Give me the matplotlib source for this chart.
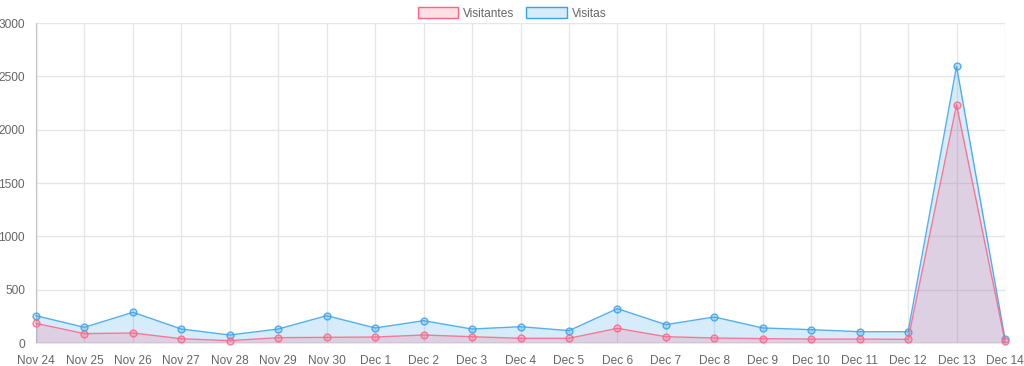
import matplotlib
matplotlib.use("Agg")
import matplotlib.pyplot as plt
from matplotlib.patches import Patch

# daily labels and values
dias = ["Nov 24", "Nov 25", "Nov 26", "Nov 27", "Nov 28", "Nov 29", "Nov 30",
        "Dec 1", "Dec 2", "Dec 3", "Dec 4", "Dec 5", "Dec 6", "Dec 7",
        "Dec 8", "Dec 9", "Dec 10", "Dec 11", "Dec 12", "Dec 13", "Dec 14"]
visitantes = [184, 88, 94, 40, 22, 50, 53, 56, 75, 59, 44, 44, 138, 59,
              47, 41, 37, 37, 34, 2234, 16]
visitas = [256, 147, 288, 131, 75, 131, 256, 141, 209, 131, 153, 116, 322, 172,
           244, 141, 125, 106, 106, 2594, 37]
y_ticks = [0, 500, 1000, 1500, 2000, 2500, 3000]

pink = (255/255, 99/255, 132/255)
blue = (54/255, 162/255, 235/255)

plt.rcParams['font.family'] = ['Liberation Sans', 'DejaVu Sans']
fig = plt.figure(figsize=(10.24, 3.66), dpi=100)
ax = fig.add_axes([36/1024, 23/366, 969/1024, 320/366])

x = list(range(len(dias)))

# Visitas underneath, Visitantes on top (chart.js draws first dataset last)
ax.fill_between(x, 0, visitas, color=blue, alpha=0.2, linewidth=0, zorder=2)
ax.plot(x, visitas, color=blue, linewidth=1, alpha=0.85, zorder=3, clip_on=False)
ax.scatter(x, visitas, s=24, facecolor=blue + (0.25,), edgecolor=blue + (0.85,),
           linewidth=1, zorder=4, clip_on=False)

ax.fill_between(x, 0, visitantes, color=pink, alpha=0.2, linewidth=0, zorder=5)
ax.plot(x, visitantes, color=pink, linewidth=1, alpha=0.85, zorder=6, clip_on=False)
ax.scatter(x, visitantes, s=24, facecolor=pink + (0.25,), edgecolor=pink + (0.85,),
           linewidth=1, zorder=7, clip_on=False)

ax.set_xlim(0, len(dias) - 1)
ax.set_ylim(0, 3000)
ax.set_xticks(x)
ax.set_xticklabels(dias)
ax.set_yticks(y_ticks)

for s in ax.spines.values():
    s.set_visible(False)
ax.tick_params(axis='both', labelcolor='#666666', labelsize=8.6, length=0)
ax.tick_params(axis='x', pad=9)
ax.tick_params(axis='y', pad=8)
ax.set_axisbelow(True)
ax.grid(True, color='#e6e6e6', linewidth=1)
ax.axhline(0, color='#c0c0c0', linewidth=1, zorder=1)
ax.axvline(0, color='#c0c0c0', linewidth=1, zorder=1)

handles = [Patch(facecolor=pink + (0.2,), edgecolor=pink, linewidth=1, label="Visitantes"),
           Patch(facecolor=blue + (0.2,), edgecolor=blue, linewidth=1, label="Visitas")]
fig.legend(handles=handles, loc='upper center', bbox_to_anchor=(0.5, 1.01), ncol=2,
           frameon=False, fontsize=8.6, labelcolor='#666666', handlelength=3.4,
           handleheight=1.0, handletextpad=0.4, columnspacing=1.0)

fig.savefig("out.png", dpi=100)
